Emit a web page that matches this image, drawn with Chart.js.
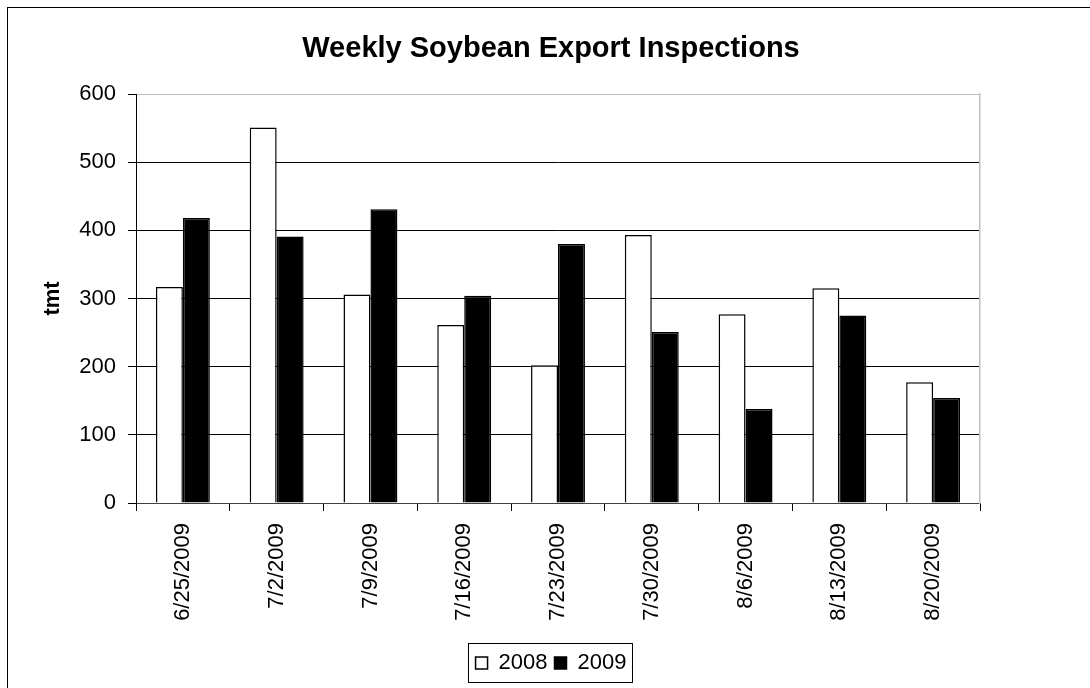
<!DOCTYPE html>
<html lang="en">
<head>
  <meta charset="UTF-8">
  <title>Weekly Soybean Export Inspections</title>
  <script src="https://cdn.jsdelivr.net/npm/chart.js"></script>
  <style>
    body {
      margin: 0;
      background: #fff;
      overflow: hidden;
    }
    #frame {
      position: absolute;
      left: 7px;
      top: 7px;
      width: 1200px;
      height: 800px;
      border-left: 1px solid #000;
      border-top: 1px solid #000;
    }
    #chart {
      position: absolute;
      left: 0;
      top: 0;
    }
  </style>
</head>
<body>

<div id="frame"></div>
<canvas id="chart" width="1090" height="688"></canvas>

<script>
  // Weeks shown on the x axis
  const weeks = ['6/25/2009', '7/2/2009', '7/9/2009', '7/16/2009', '7/23/2009',
                 '7/30/2009', '8/6/2009', '8/13/2009', '8/20/2009'];

  // Inspections in thousand metric tons
  const tmt2008 = [317, 551, 306, 261, 202, 393, 277, 315, 177];
  const tmt2009 = [418, 391, 431, 304, 380, 251, 138, 275, 154];

  const yTicks = [0, 100, 200, 300, 400, 500, 600];

  const font = "'Liberation Sans', Arial, sans-serif";

  // draws the thin box round the legend items
  const legendBox = {
    id: 'legendBox',
    afterDraw(chart) {
      const boxes = chart.legend.legendHitBoxes;
      if (!boxes || !boxes.length) return;
      const left = Math.min(...boxes.map(b => b.left)) - 8;
      const right = Math.max(...boxes.map(b => b.left + b.width)) + 5;
      const top = boxes[0].top - 9;
      const bottom = boxes[0].top + boxes[0].height + 8;
      const ctx = chart.ctx;
      ctx.save();
      ctx.strokeStyle = '#000';
      ctx.lineWidth = 1;
      ctx.strokeRect(Math.round(left) + 0.5, Math.round(top) + 0.5,
                     Math.round(right - left), Math.round(bottom - top));
      ctx.restore();
    }
  };

  new Chart(document.getElementById('chart'), {
    type: 'bar',
    data: {
      labels: weeks,
      datasets: [
        {
          label: '2008',
          data: tmt2008,
          backgroundColor: '#fff',
          borderColor: '#000',
          borderWidth: 1.5,
          categoryPercentage: 0.575,
          barPercentage: 1
        },
        {
          label: '2009',
          data: tmt2009,
          backgroundColor: '#000',
          borderColor: '#000',
          borderWidth: 1.5,
          categoryPercentage: 0.575,
          barPercentage: 1
        }
      ]
    },
    options: {
      responsive: false,
      animation: false,
      layout: {
        padding: { left: 12, right: 0, top: 0, bottom: 4 }
      },
      plugins: {
        title: {
          display: true,
          text: 'Weekly Soybean Export Inspections',
          color: '#000',
          font: { family: font, size: 29, weight: 'bold' },
          padding: { top: 32, bottom: 27.2 }
        },
        legend: {
          position: 'bottom',
          labels: {
            color: '#000',
            font: { family: font, size: 22 },
            boxWidth: 12,
            boxHeight: 12,
            padding: 7
          }
        },
        tooltip: { enabled: false }
      },
      scales: {
        x: {
          grid: {
            display: true,
            drawOnChartArea: false,
            offset: true,
            color: '#000',
            tickLength: 8
          },
          border: { color: '#404040', width: 1 },
          ticks: {
            color: '#000',
            font: { family: font, size: 22 },
            minRotation: 90,
            maxRotation: 90,
            autoSkip: false,
            padding: 12
          },
          afterFit: s => { s.height = 142; }
        },
        y: {
          min: 0,
          max: 600,
          afterBuildTicks: s => { s.ticks = yTicks.map(v => ({ value: v })); },
          grid: {
            color: c => (c.tick && c.tick.value === 600) ? '#c0c0c0' : '#000',
            tickColor: '#000',
            tickLength: 8,
            lineWidth: 1
          },
          border: { color: '#000', width: 1 },
          ticks: {
            color: '#000',
            font: { family: font, size: 22 },
            padding: 12
          },
          title: {
            display: true,
            text: 'tmt',
            color: '#000',
            font: { family: font, size: 22, weight: 'bold' },
            padding: { top: 28, bottom: 0 }
          },
          afterFit: s => { s.width = 124; }
        },
        edge: {
          type: 'linear',
          position: 'right',
          min: 0,
          max: 600,
          grid: { display: false },
          ticks: { display: false },
          border: { color: '#c0c0c0', width: 1.5 },
          afterFit: s => { s.width = 110; }
        }
      }
    },
    plugins: [legendBox]
  });
</script>

</body>
</html>
